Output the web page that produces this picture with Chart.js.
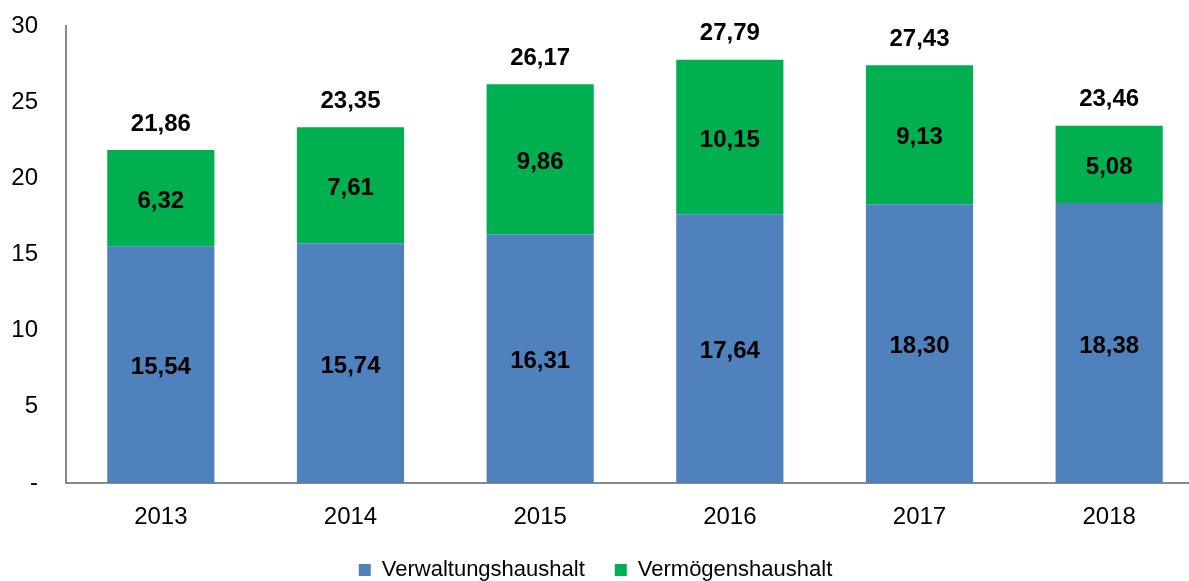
<!DOCTYPE html>
<html>
<head>
<meta charset="utf-8">
<script src="https://cdn.jsdelivr.net/npm/chart.js@4/dist/chart.umd.min.js"></script>
<style>
html,body{margin:0;padding:0;background:#fff;overflow:hidden;}
#wrap{position:relative;width:1204px;height:581px;}
</style>
</head>
<body>
<div id="wrap"><canvas id="c"></canvas></div>
<script>
const categories = ['2013','2014','2015','2016','2017','2018'];
const verwaltung = [15.54, 15.74, 16.31, 17.64, 18.30, 18.38];
const vermoegen = [6.32, 7.61, 9.86, 10.15, 9.13, 5.08];
const totals = [21.86, 23.35, 26.17, 27.79, 27.43, 23.46];
const yTicks = [0, 5, 10, 15, 20, 25, 30];
const seriesNames = ['Verwaltungshaushalt', 'Vermögenshaushalt'];

const FONT = '"Liberation Sans", Arial, sans-serif';
const fmt = v => v.toFixed(2).replace('.', ',');

const labelPlugin = {
  id: 'valueLabels',
  afterDatasetsDraw(chart) {
    const ctx = chart.ctx;
    ctx.save();
    ctx.font = 'bold 24px ' + FONT;
    ctx.fillStyle = '#000';
    ctx.textAlign = 'center';
    ctx.textBaseline = 'middle';
    chart.data.datasets.forEach((ds, di) => {
      const meta = chart.getDatasetMeta(di);
      meta.data.forEach((el, i) => {
        const p = el.getProps(['x', 'y', 'base'], true);
        ctx.fillText(fmt(ds.data[i]), p.x, (p.y + p.base) / 2 + 3);
      });
    });
    const last = chart.getDatasetMeta(chart.data.datasets.length - 1);
    const ys = chart.scales.y;
    last.data.forEach((el, i) => {
      const p = el.getProps(['x'], true);
      ctx.fillText(fmt(totals[i]), p.x, ys.getPixelForValue(totals[i]) - 26);
    });
    ctx.restore();
  }
};

const legendFitPlugin = {
  id: 'legendFit',
  beforeLayout(chart) {
    const lg = chart.legend;
    if (lg && !lg._patched) {
      const orig = lg.fit;
      lg.fit = function () { orig.call(this); this.height = 48; };
      lg._patched = true;
    }
  },
  afterLayout(chart) {
    if (chart.legend) { chart.legend.left -= 13; chart.legend.top -= 4; }
  }
};

new Chart(document.getElementById('c'), {
  type: 'bar',
  data: {
    labels: categories,
    datasets: [
      { label: seriesNames[0], data: verwaltung, backgroundColor: '#4F81BD', barPercentage: 0.565, categoryPercentage: 1 },
      { label: seriesNames[1], data: vermoegen, backgroundColor: '#00B050', barPercentage: 0.565, categoryPercentage: 1 }
    ]
  },
  options: {
    responsive: true,
    maintainAspectRatio: false,
    animation: false,
    layout: { autoPadding: false, padding: { top: 26, left: 0, right: 0, bottom: 0 } },
    plugins: {
      legend: {
        position: 'bottom',
        labels: {
          boxWidth: 12, boxHeight: 12, padding: 30,
          color: '#000',
          font: { family: FONT, size: 22 }
        }
      },
      tooltip: { enabled: false }
    },
    scales: {
      x: {
        stacked: true,
        afterFit(scale) { scale.height = 50; scale.paddingLeft = 0; scale.paddingRight = 0; },
        grid: { display: false, drawTicks: false },
        border: { display: true, color: '#898989', width: 2 },
        ticks: { color: '#000', padding: 20, font: { family: FONT, size: 24 } }
      },
      y: {
        stacked: true,
        min: 0, max: 30,
        afterBuildTicks(scale) { scale.ticks = yTicks.map(v => ({ value: v })); },
        afterFit(scale) { scale.width = 66; scale.paddingTop = 0; scale.paddingBottom = 0; },
        grid: { display: false, drawTicks: false },
        border: { display: true, color: '#898989', width: 2 },
        ticks: {
          color: '#000', padding: 28,
          font: { family: FONT, size: 24 },
          callback: v => v === 0 ? '-' : String(v)
        }
      }
    }
  },
  plugins: [labelPlugin, legendFitPlugin]
});
</script>
</body>
</html>
